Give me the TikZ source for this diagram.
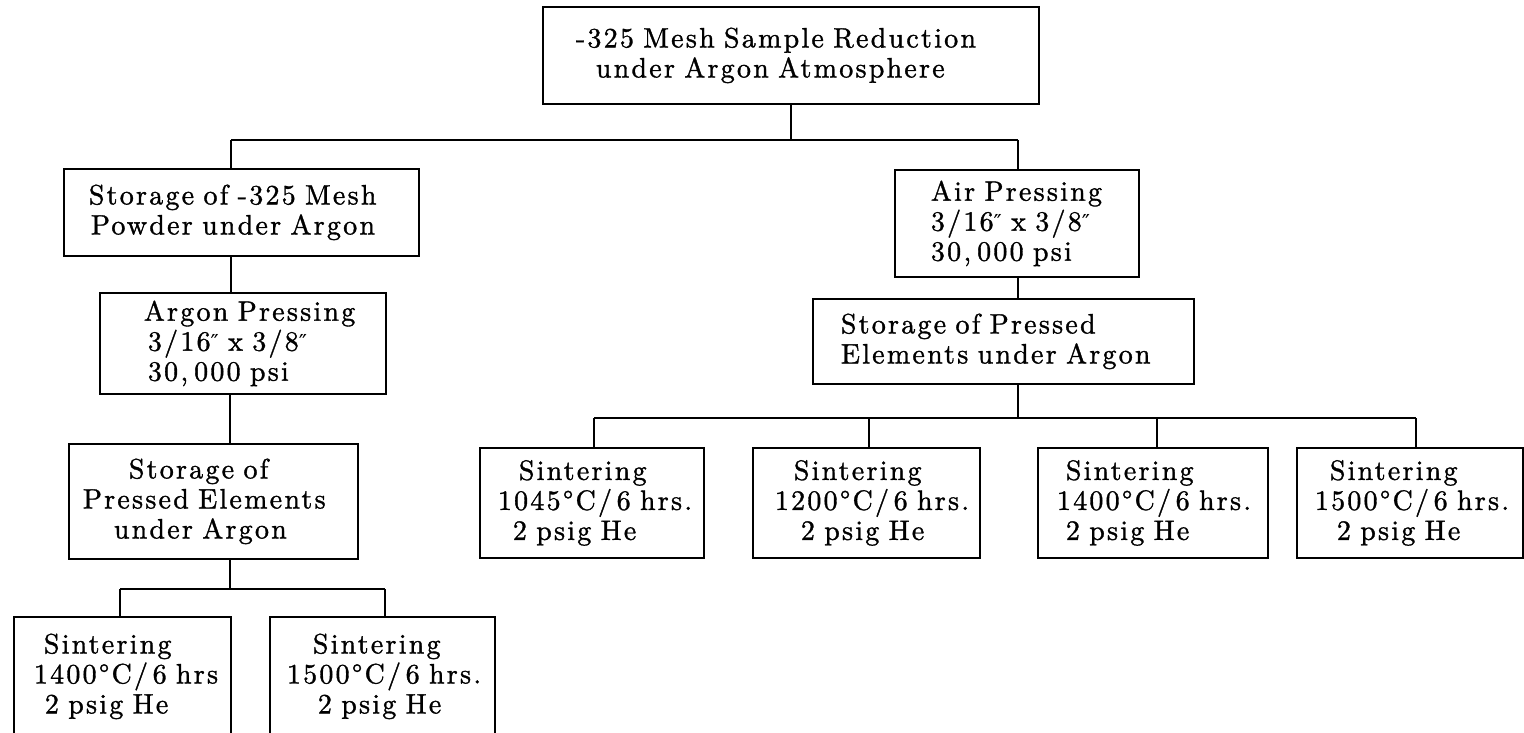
\documentclass[tikz,border=0pt]{standalone}
\usepackage{fontspec}
\newfontfamily\boxfamily{lmroman10-regular.otf}[LetterSpace=8,FakeBold=1.2]
\newfontfamily\markfamily{DejaVu Serif}
\newcommand{\bodyfont}{\boxfamily\fontsize{28}{30}\selectfont}
\newcommand{\ind}[1]{\hspace*{#1pt}}
\newcommand{\inch}{{\markfamily\fontsize{22}{24}\selectfont ″}}
\newcommand{\thou}{,\hspace{6pt}}
\tikzset{
  box/.style={draw, line width=1.8pt, rectangle, inner sep=0pt, align=left,
    anchor=north west, font=\bodyfont},
  link/.style={line width=1.8pt}
}
\begin{document}
\begin{tikzpicture}[x=1pt,y=-1pt]
\useasboundingbox (0,0) rectangle (1524,733);
\clip (0,0) rectangle (1524,733);
% boxes
\node[box, minimum width=496pt, minimum height=97pt, text width=496pt] (A) at (542,6)
  {\ind{33}-325 Mesh Sample Reduction\\\ind{53}under Argon Atmosphere};
\node[box, minimum width=355pt, minimum height=87pt, text width=355pt] (B) at (63,168)
  {\ind{25}Storage of -325 Mesh\\\ind{27}Powder under Argon};
\node[box, minimum width=244pt, minimum height=107pt, text width=244pt] (C) at (894,169)
  {\ind{36}Air Pressing\\\ind{36}3/16\inch{} x 3/8\inch\\\ind{36}30\thou000 psi};
\node[box, minimum width=286pt, minimum height=101pt, text width=286pt] (D) at (99,292)
  {\ind{44}Argon Pressing\\\ind{48}3/16\inch{} x 3/8\inch\\\ind{48}30\thou000 psi};
\node[box, minimum width=381pt, minimum height=85pt, text width=381pt] (E) at (812,298)
  {\ind{28}Storage of Pressed\\\ind{28}Elements under Argon};
\node[box, minimum width=289pt, minimum height=115pt, text width=289pt] (F) at (68,443)
  {\ind{60}Storage of\\\ind{14}Pressed Elements\\\ind{45}under Argon};
\node[box, minimum width=224pt, minimum height=110pt, text width=224pt] (S1) at (479,447)
  {\ind{39}Sintering\\\ind{18}1045°C/\,6 hrs.\\\ind{33}2 psig He};
\node[box, minimum width=227pt, minimum height=110pt, text width=227pt] (S2) at (752,447)
  {\ind{41}Sintering\\\ind{22}1200°C/\,6 hrs.\\\ind{48}2 psig He};
\node[box, minimum width=230pt, minimum height=110pt, text width=230pt] (S3) at (1037,447)
  {\ind{28}Sintering\\\ind{19}1400°C/\,6 hrs.\\\ind{28}2 psig He};
\node[box, minimum width=226pt, minimum height=110pt, text width=226pt] (S4) at (1296,447)
  {\ind{33}Sintering\\\ind{18}1500°C/\,6 hrs.\\\ind{40}2 psig He};
\node[box, minimum width=217pt, minimum height=119pt, text width=217pt] (L1) at (13,616)
  {\ind{30}Sintering\\\ind{20}1400°C/\,6 hrs\\\ind{31}2 psig He};
\node[box, minimum width=225pt, minimum height=119pt, text width=225pt] (L2) at (269,616)
  {\ind{43}Sintering\\\ind{17}1500°C/\,6 hrs.\\\ind{48}2 psig He};
% bus coordinates
\coordinate (b1L) at (231,140);
\coordinate (b1R) at (1018,140);
\coordinate (b2L) at (594,418);
\coordinate (b2a) at (869,418);
\coordinate (b2b) at (1018,418);
\coordinate (b2c) at (1157,418);
\coordinate (b2R) at (1416,418);
\coordinate (b3L) at (120,589);
\coordinate (b3m) at (230,589);
\coordinate (b3R) at (385,589);
% connectors
\draw[link] (A.south) -- (A.south |- b1L);
\draw[link] (b1L) -- (b1R);
\draw[link] (b1L) -- (b1L |- B.north);
\draw[link] (b1R) -- (b1R |- C.north);
\draw[link] (B.south -| b1L) -- (D.north -| b1L);
\draw[link] (D.south -| b3m) -- (F.north -| b3m);
\draw[link] (F.south -| b3m) -- (b3m);
\draw[link] (b3L) -- (b3R);
\draw[link] (b3L) -- (b3L |- L1.north);
\draw[link] (b3R) -- (b3R |- L2.north);
\draw[link] (C.south -| b1R) -- (E.north -| b1R);
\draw[link] (E.south -| b2b) -- (b2b);
\draw[link] (b2L) -- (b2R);
\draw[link] (b2L) -- (b2L |- S1.north);
\draw[link] (b2a) -- (b2a |- S2.north);
\draw[link] (b2c) -- (b2c |- S3.north);
\draw[link] (b2R) -- (b2R |- S4.north);
\end{tikzpicture}
\end{document}
